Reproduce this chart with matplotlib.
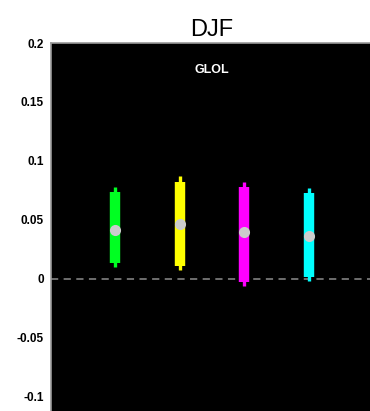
import matplotlib
matplotlib.use("Agg")
import matplotlib.pyplot as plt

plt.rcParams["font.family"] = ["Liberation Sans", "DejaVu Sans"]

positions = [1, 2, 3, 4]
colors = ["#00ff22", "#ffff00", "#ff00ff", "#00ffff"]
means = [0.0413, 0.0463, 0.0398, 0.0367]
inner_low = [0.0133, 0.0110, -0.0023, 0.0020]
inner_high = [0.0740, 0.0825, 0.0782, 0.0726]
outer_low = [0.0099, 0.0076, -0.0059, -0.0014]
outer_high = [0.0782, 0.0873, 0.0825, 0.0768]
yticks = [0.2, 0.15, 0.1, 0.05, 0, -0.05, -0.1]
ytick_labels = ["0.2", "0.15", "0.1", "0.05", "0", "-0.05", "-0.1"]

fig = plt.figure(figsize=(3.70, 4.11), dpi=100)
ax = fig.add_axes([51/370, 0, (373-51)/370, (411-43)/411])
ax.set_facecolor("black")

ax.axhline(0, color="#777777", lw=1.3, ls=(0, (4, 3)), zorder=1)
for x, c, m, il, ih, ol, oh in zip(positions, colors, means, inner_low, inner_high, outer_low, outer_high):
    ax.vlines(x, ol, oh, color=c, lw=2.4, zorder=2)
    ax.vlines(x, il, ih, color=c, lw=7.5, zorder=3)
    ax.plot([x], [m], "o", color="#cccccc", ms=8, mec="none", zorder=4)

ax.set_xlim(0, 5)
ax.set_ylim(-0.112, 0.2)
ax.set_xticks([])
ax.set_yticks(yticks)
ax.set_yticklabels(ytick_labels, fontsize=8.5, fontweight="bold")
ax.tick_params(axis="y", length=0, pad=5)
for s in ["left", "top"]:
    ax.spines[s].set_color("#999999")
    ax.spines[s].set_linewidth(1.2)
for s in ["right", "bottom"]:
    ax.spines[s].set_visible(False)

ax.text(2.5, 0.177, "GLOL", color="white", fontsize=9, fontweight="bold",
        ha="center", va="center")
ax.set_title("DJF", fontsize=17, pad=5)

fig.savefig("out.png", dpi=100)
